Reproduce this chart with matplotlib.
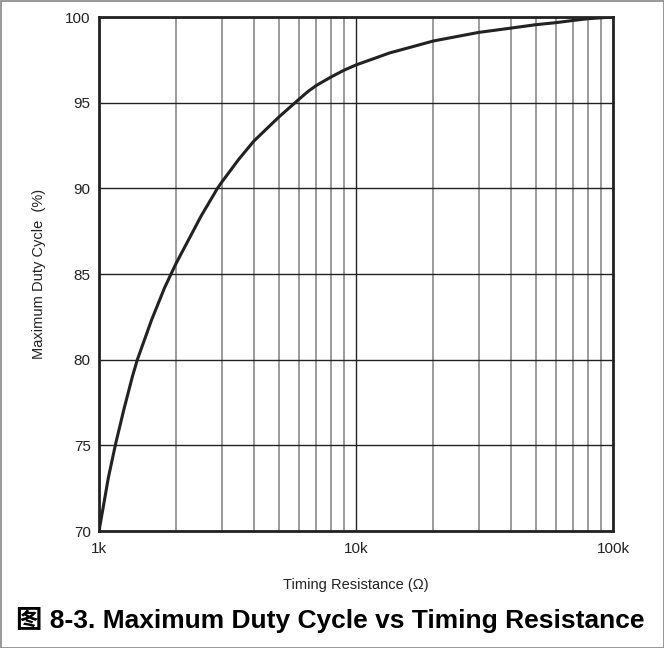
import matplotlib
matplotlib.use("Agg")
import matplotlib.pyplot as plt
from matplotlib.ticker import FixedLocator, NullFormatter
from matplotlib.patches import Rectangle

plt.rcParams['font.family'] = ['Liberation Sans', 'Noto Sans CJK SC', 'DejaVu Sans']

resistance_k = [1.0, 1.036, 1.087, 1.161, 1.25, 1.348, 1.41, 1.6, 1.8, 1.9, 2.0, 2.5, 2.89, 3.0, 3.5,
                4.0, 5.0, 6.0, 6.5, 7.0, 8.0, 9.0, 10.0, 13.5, 20.0, 30.0, 40.0, 50.0, 60.0, 70.0,
                80.0, 100.0]
duty_cycle = [70.0, 71.3, 73.1, 75.1, 77.1, 79.0, 80.0, 82.3, 84.2, 84.95, 85.65, 88.4, 90.0, 90.35, 91.7,
              92.75, 94.15, 95.2, 95.65, 96.0, 96.5, 96.9, 97.2, 97.9, 98.6, 99.1, 99.35, 99.55, 99.67,
              99.8, 99.9, 100.0]

x_ticks = [1000, 10000, 100000]
x_tick_labels = ['1k', '10k', '100k']
y_ticks = [70, 75, 80, 85, 90, 95, 100]

fig = plt.figure(figsize=(6.64, 6.48), dpi=100)
ax = fig.add_axes([99/664, 1-531/648, (613-99)/664, (531-17)/648])

R = [r * 1000 for r in resistance_k]
ax.plot(R, duty_cycle, color='#222222', lw=2.2, zorder=3, solid_capstyle='butt',
        solid_joinstyle='round')

ax.set_xscale('log')
ax.set_xlim(1000, 100000)
ax.set_ylim(70, 100)
ax.xaxis.set_major_locator(FixedLocator(x_ticks))
ax.set_xticklabels(x_tick_labels)
minor = [m * d for d in (1000, 10000) for m in range(2, 10)]
ax.xaxis.set_minor_locator(FixedLocator(minor))
ax.xaxis.set_minor_formatter(NullFormatter())
ax.set_yticks(y_ticks)

ax.grid(True, which='major', axis='both', color='#222222', lw=1.0)
ax.grid(True, which='minor', axis='x', color='#8a8a8a', lw=1.2)
ax.tick_params(which='both', length=0, labelsize=11, colors='#222222')
ax.tick_params(axis='y', pad=6)
ax.tick_params(axis='x', pad=8)
for s in ax.spines.values():
    s.set_color('#222222')
    s.set_linewidth(2)

ax.set_xlabel('Timing Resistance (Ω)', fontsize=10.5, color='#222222', labelpad=16)
ax.set_ylabel('Maximum Duty Cycle  (%)', fontsize=10.5, color='#222222', labelpad=14)

fig.text(330.5/664, 1-620/648, '图 8-3. Maximum Duty Cycle vs Timing Resistance',
         ha='center', va='center', fontsize=19, fontweight='bold', color='black')

fig.patches.append(Rectangle((0.5/664, 0.5/648), 1-1/664, 1-1/648, transform=fig.transFigure,
                             fill=False, edgecolor='#888888', lw=1.2))

fig.savefig('out.png', dpi=100)
